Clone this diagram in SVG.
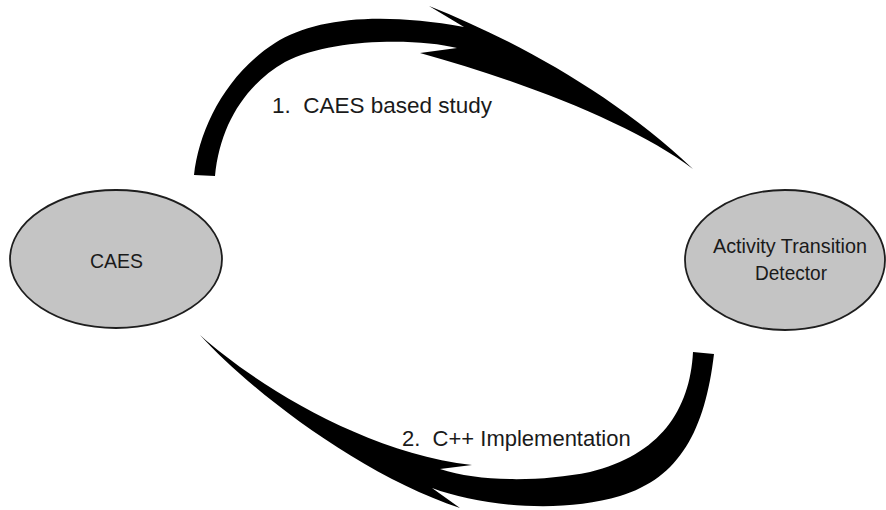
<svg xmlns="http://www.w3.org/2000/svg" width="886" height="510" viewBox="0 0 886 510">
<style>
.node{fill:#c4c4c4;stroke:#1e1e1e;stroke-width:1.8}
.ntext{font-family:"Liberation Sans",Arial,sans-serif;font-size:21px;fill:#1a1a1a;text-anchor:middle}
.label{font-family:"Liberation Sans",Arial,sans-serif;font-size:22.5px;fill:#1a1a1a;white-space:pre}
.arrow{fill:#000;stroke:none}
</style>
<rect width="886" height="510" fill="#fff"/>
<g id="connectors">
<path id="arrow-caes-to-atd" class="arrow" d="M194,175 C199,130 225,75 275,43 C315,18 380,12 464,27 L429,6 C515,40 615,95 693,169 C635,125 525,82 420,53 L457,48 C418,38 330,38 285,62 C245,85 220,125 215,176 Z"/>
<path id="arrow-atd-to-caes" class="arrow" d="M693,352 C690,410 660,455 590,472 C540,482 480,482 440,469 L472,465 C360,452 250,380 200,335 C250,390 360,475 460,508 L432,488 C480,506 560,514 620,496 C680,478 705,430 714,354 Z"/>
<text class="label" x="272" y="113">1.  CAES based study</text>
<text class="label" x="402" y="446" style="font-size:22px">2.  C++ Implementation</text>
</g>
<g id="node-caes">
<ellipse class="node" cx="116" cy="259" rx="106" ry="69"/>
<text class="ntext" x="116.5" y="268" textLength="53" lengthAdjust="spacingAndGlyphs">CAES</text>
</g>
<g id="node-atd">
<ellipse class="node" cx="785" cy="260" rx="100" ry="70"/>
<text class="ntext" x="790" y="253" textLength="154" lengthAdjust="spacingAndGlyphs">Activity Transition</text>
<text class="ntext" x="791" y="280" textLength="72" lengthAdjust="spacingAndGlyphs">Detector</text>
</g>
</svg>
